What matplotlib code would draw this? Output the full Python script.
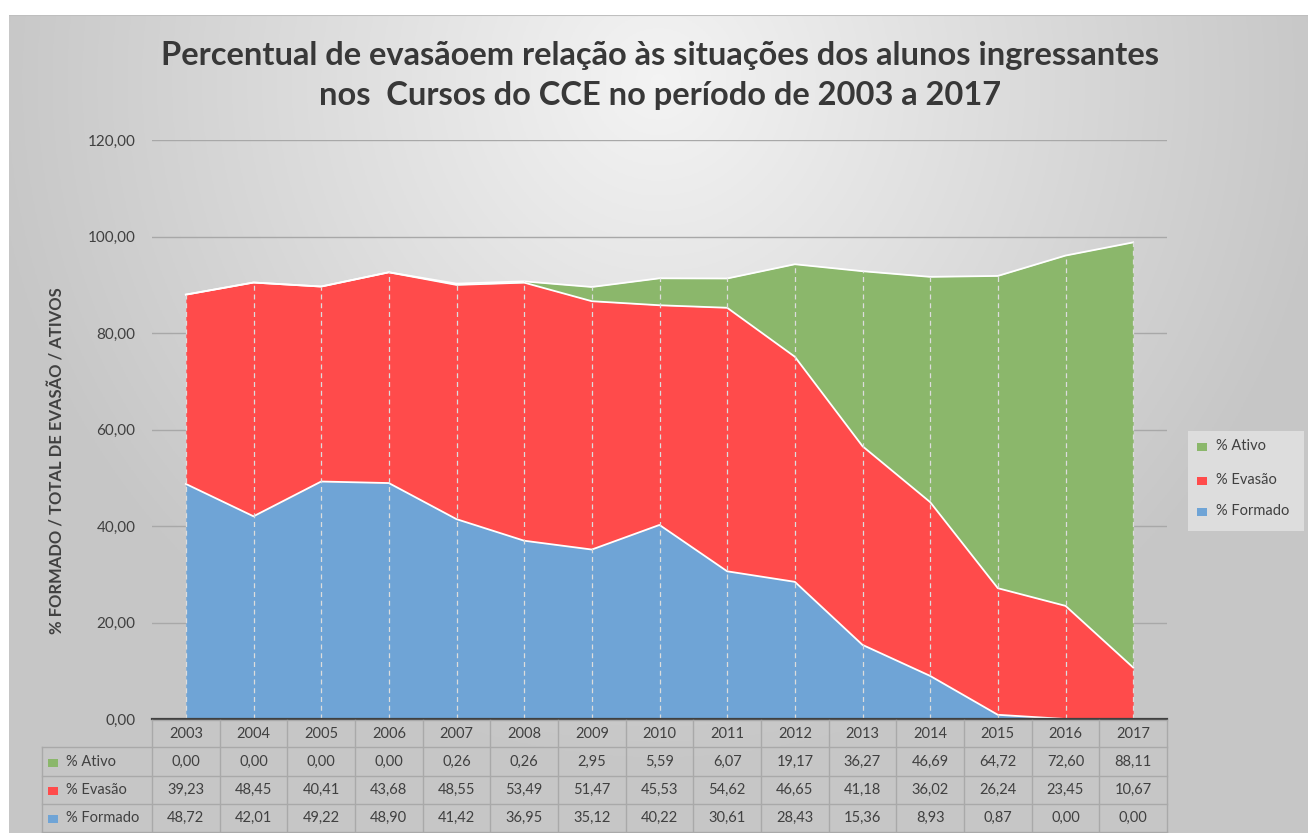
import numpy as np
import matplotlib
matplotlib.use("Agg")
import matplotlib.pyplot as plt
from matplotlib.patches import Rectangle

# ---------------- data ----------------
years = ["2003", "2004", "2005", "2006", "2007", "2008", "2009", "2010",
         "2011", "2012", "2013", "2014", "2015", "2016", "2017"]
ativo = [0.00, 0.00, 0.00, 0.00, 0.26, 0.26, 2.95, 5.59, 6.07, 19.17,
         36.27, 46.69, 64.72, 72.60, 88.11]
evasao = [39.23, 48.45, 40.41, 43.68, 48.55, 53.49, 51.47, 45.53, 54.62,
          46.65, 41.18, 36.02, 26.24, 23.45, 10.67]
formado = [48.72, 42.01, 49.22, 48.90, 41.42, 36.95, 35.12, 40.22, 30.61,
           28.43, 15.36, 8.93, 0.87, 0.00, 0.00]
series_labels = ["% Ativo", "% Evasão", "% Formado"]
yticks = [0, 20, 40, 60, 80, 100, 120]
title_lines = ["Percentual de evasãoem relação às situações dos alunos ingressantes",
               "nos  Cursos do CCE no período de 2003 a 2017"]
ylabel = "% FORMADO / TOTAL DE EVASÃO / ATIVOS"

# ---------------- style ----------------
C_BLUE = "#6FA4D6"
C_RED = "#FF4B4B"
C_GREEN = "#8BB76B"
TXT = "#404040"
FONT = ["Lato", "DejaVu Sans"]
plt.rcParams["font.family"] = FONT

W, H = 1308, 833
fig = plt.figure(figsize=(W / 100, H / 100), dpi=100)
fig.patch.set_facecolor("white")

def fx(px):
    return px / W

def fy(py):
    return 1 - py / H

# background gradient panel
bg = fig.add_axes([fx(9), 0, 1 - fx(9), fy(15)])
bg.set_axis_off()
yy, xx = np.mgrid[0:1:300j, 0:1:500j]
d = np.sqrt(((xx - 0.5) * 1.0) ** 2 + ((yy - 0.08) * 0.62) ** 2)
g = np.clip(0.955 - 0.34 * d, 0.78, 0.955)
bg.imshow(np.dstack([g, g, g]), aspect="auto", extent=[0, 1, 0, 1], origin="upper")
bg.set_xlim(0, 1)
bg.set_ylim(0, 1)
bg.plot([0, 1], [1, 1], color="#BFBFBF", lw=1.5, transform=bg.transAxes)

# main axes
left_px, right_px, top_px, bot_px = 152, 1167, 140, 719
ax = fig.add_axes([fx(left_px), fy(bot_px), fx(right_px - left_px), (bot_px - top_px) / H])
ax.set_facecolor("none")
x = np.arange(len(years))
f = np.array(formado)
e = np.array(evasao)
a = np.array(ativo)
s1 = f
s2 = f + e
s3 = f + e + a

ax.fill_between(x, 0, s1, color=C_BLUE, lw=0, zorder=2)
ax.fill_between(x, s1, s2, color=C_RED, lw=0, zorder=2)
ax.fill_between(x, s2, s3, color=C_GREEN, lw=0, zorder=2)
for top in (s1, s2, s3):
    ax.plot(x, top, color="white", lw=1.3, zorder=3, solid_joinstyle="round")
ax.vlines(x, 0, s3, colors="#DCDCDC", linestyles=(0, (4, 3)), lw=0.9, zorder=4)

ax.set_xlim(-0.5, len(years) - 0.5)
ax.set_ylim(0, 120)
ax.set_yticks(yticks)
ax.set_yticklabels([f"{v:.2f}".replace(".", ",") for v in yticks])
ax.yaxis.grid(True, color="#A8A8A8", lw=1.0)
ax.set_axisbelow(True)
ax.set_xticks([])
ax.tick_params(axis="y", length=0, pad=12, labelsize=11, labelcolor=TXT)
for sp in ("left", "right", "top"):
    ax.spines[sp].set_visible(False)
ax.spines["bottom"].set_color("#404040")
ax.spines["bottom"].set_linewidth(1.6)
ax.spines["bottom"].set_zorder(5)

# y label
fig.text(fx(57), fy(461), ylabel, rotation=90, ha="center", va="center",
         fontsize=12, fontweight="bold", color=TXT)

# title
fig.text(fx(660), fy(55), title_lines[0], ha="center", va="center",
         fontsize=23.5, fontweight="bold", color="#383838")
fig.text(fx(660), fy(95), title_lines[1], ha="center", va="center",
         fontsize=23.5, fontweight="bold", color="#383838")

# overlay for table and legend (pixel coordinates)
ov = fig.add_axes([0, 0, 1, 1])
ov.set_xlim(0, W)
ov.set_ylim(H, 0)
ov.set_axis_off()
ov.patch.set_alpha(0)

n = len(years)
cw = (right_px - left_px) / n
row_edges = [720, 747, 776, 804, 832]
lab_left = 42
GRID = "#A9A9A9"

def fmt(v):
    return f"{v:.2f}".replace(".", ",")

# horizontal lines
ov.plot([left_px, right_px], [row_edges[0], row_edges[0]], color=GRID, lw=1)
for yv in row_edges[1:]:
    ov.plot([lab_left, right_px], [yv, yv], color=GRID, lw=1)
# vertical lines
for i in range(n + 1):
    xv = left_px + i * cw
    ov.plot([xv, xv], [row_edges[0], row_edges[-1]], color=GRID, lw=1)
ov.plot([lab_left, lab_left], [row_edges[1], row_edges[-1]], color=GRID, lw=1)

TFS = 10.5
for i, yr in enumerate(years):
    cx = left_px + (i + 0.5) * cw
    ov.text(cx, (row_edges[0] + row_edges[1]) / 2, yr, ha="center", va="center",
            fontsize=TFS, color=TXT)
rows = [ativo, evasao, formado]
colors = [C_GREEN, C_RED, C_BLUE]
for r, (vals, lab, col) in enumerate(zip(rows, series_labels, colors)):
    cy = (row_edges[r + 1] + row_edges[r + 2]) / 2
    ov.add_patch(Rectangle((48, cy - 3), 10, 8, facecolor=col, edgecolor="none"))
    ov.text(66, cy, lab, ha="left", va="center", fontsize=TFS, color=TXT)
    for i, v in enumerate(vals):
        cx = left_px + (i + 0.5) * cw
        ov.text(cx, cy, fmt(v), ha="center", va="center", fontsize=TFS, color=TXT)

# legend
ov.add_patch(Rectangle((1188, 431), 116, 100, facecolor="#E3E3E3", edgecolor="none", alpha=0.8))
for lab, col, cy in zip(series_labels, colors, [446, 480, 511]):
    ov.add_patch(Rectangle((1197, cy - 3), 10, 8, facecolor=col, edgecolor="none"))
    ov.text(1216, cy, lab, ha="left", va="center", fontsize=TFS, color=TXT)

fig.savefig("out.png", dpi=100, facecolor=fig.get_facecolor())
